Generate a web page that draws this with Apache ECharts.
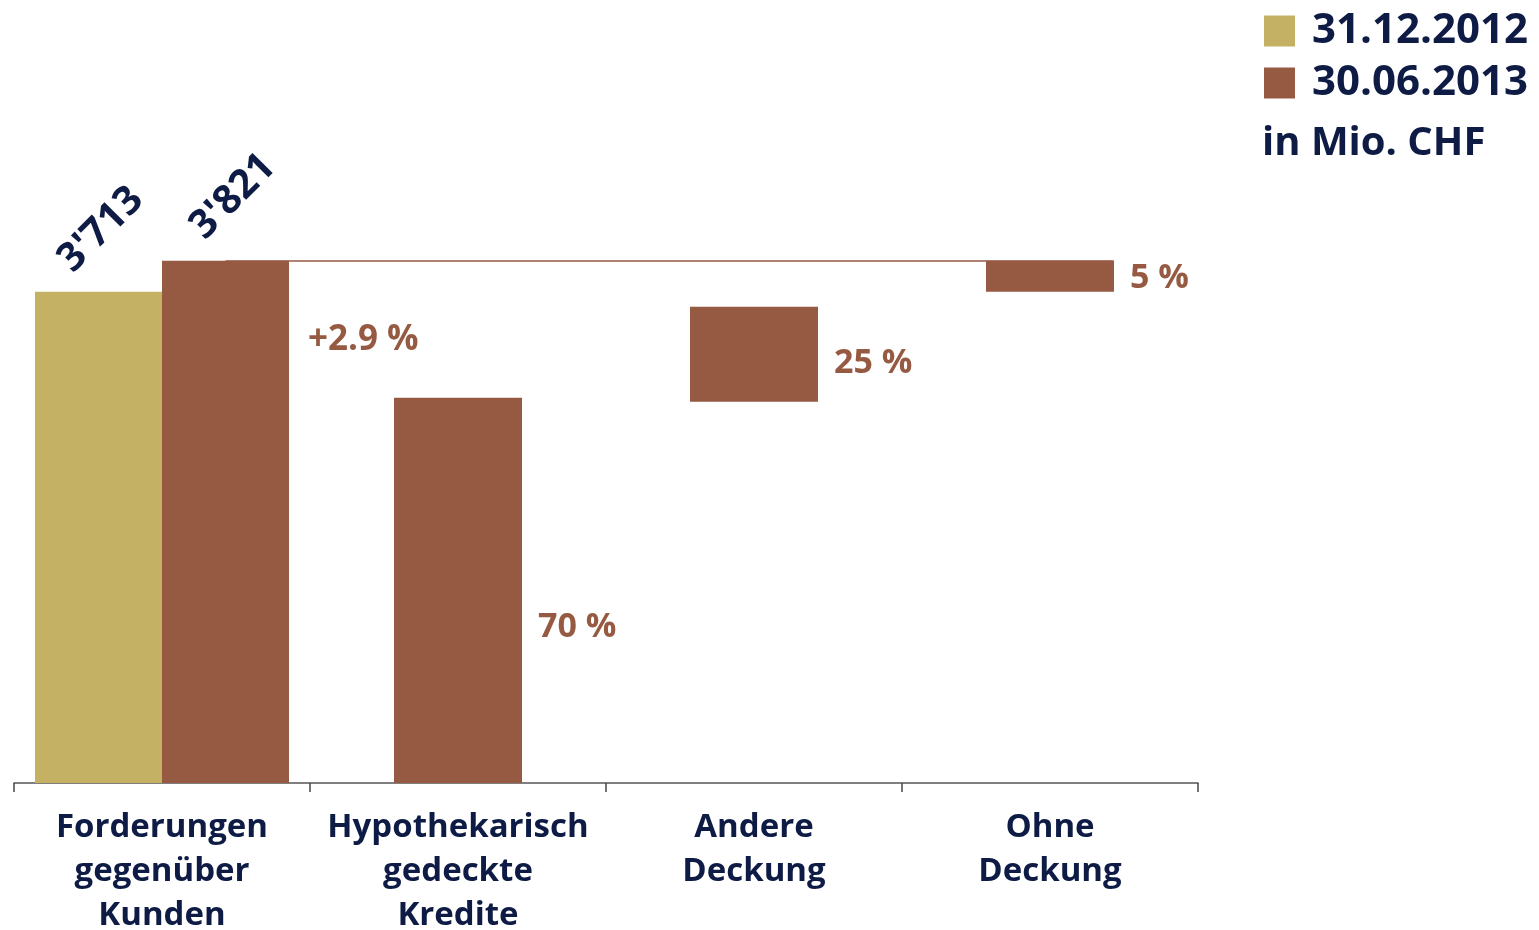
<!DOCTYPE html>
<html>
<head>
<meta charset="utf-8">
<script src="https://cdn.jsdelivr.net/npm/echarts@6/dist/echarts.min.js"></script>
<style>
  html, body { margin: 0; padding: 0; background: #fff; }
  #chart { width: 1539px; height: 930px; }
</style>
</head>
<body>
<div id="chart"></div>
<script>
// categories on the x axis
var categories = ['Forderungen\ngegenüber\nKunden', 'Hypothekarisch\ngedeckte\nKredite', 'Andere\nDeckung', 'Ohne\nDeckung'];
var seriesNames = ['31.12.2012', '30.06.2013'];

// totals (Mio. CHF), first category only
var total2012 = [3713, '-', '-', '-'];
var total2013 = [3821, '-', '-', '-'];
var totalLabels = ["3'713", "3'821"];

// breakdown bars: bottom and top of each floating bar (as drawn)
var partLow  = ['-', 2000, 3329, 3713];
var partHigh = ['-', 3343, 3661, 3821];
var partLabels = ['', '70 %', '25 %', '5 %'];
var changeLabel = '+2.9 %';

var navy = '#0d1b45';
var gold = '#c4b163';
var brown = '#965a43';
var font = 'Open Sans';

var myChart = echarts.init(document.getElementById('chart'));

var partBase = partLow.slice();
var partSize = partHigh.map(function (v, i) {
    return v === '-' ? '-' : v - partLow[i];
});
var labelShift = [0, 37, 9, 2];

var option = {
    animation: false,
    textStyle: { fontFamily: font },
    title: {
        text: 'in Mio. CHF',
        left: 1257,
        top: 119,
        textStyle: { color: navy, fontSize: 40, fontWeight: 'bold', fontFamily: font }
    },
    legend: {
        data: seriesNames,
        orient: 'vertical',
        left: 1264,
        top: 10,
        padding: 0,
        icon: 'rect',
        itemWidth: 31,
        itemHeight: 31,
        itemGap: 10,
        selectedMode: false,
        textStyle: {
            color: navy, fontSize: 42, fontWeight: 'bold', fontFamily: font,
            padding: [0, 0, 0, 12]
        }
    },
    graphic: [{
        type: 'text',
        left: 308,
        top: 323,
        style: {
            text: changeLabel,
            fill: brown,
            font: 'bold 35px "Open Sans"'
        }
    }],
    // labels reach below the canvas edge, so keep the grid where it is
    grid: { left: 14, width: 1184, top: 66, height: 717, containLabel: false, outerBoundsMode: 'none' },
    xAxis: [{
        type: 'category',
        data: categories,
        axisLine: { lineStyle: { color: '#555', width: 1.5 } },
        axisTick: { show: true, length: 9, lineStyle: { color: '#444', width: 1.5 } },
        axisLabel: {
            color: navy,
            fontSize: 33,
            fontWeight: 'bold',
            lineHeight: 44,
            margin: 23,
            interval: 0,
            fontFamily: font
        }
    }, {
        type: 'category',
        data: categories,
        show: false
    }],
    yAxis: {
        type: 'value',
        min: 2000,
        max: 4500,
        show: false,
        splitLine: { show: false }
    },
    series: [{
        name: seriesNames[0],
        type: 'bar',
        xAxisIndex: 0,
        barWidth: 127,
        barGap: '0%',
        itemStyle: { color: gold },
        label: {
            show: true,
            position: [30, -26],
            rotate: 45,
            align: 'left',
            verticalAlign: 'middle',
            formatter: function () { return totalLabels[0]; },
            color: navy,
            fontSize: 40,
            fontWeight: 'bold',
            fontFamily: font
        },
        data: total2012
    }, {
        name: seriesNames[1],
        type: 'bar',
        xAxisIndex: 0,
        barWidth: 127,
        barGap: '0%',
        itemStyle: { color: brown },
        label: {
            show: true,
            position: [35, -28],
            rotate: 45,
            align: 'left',
            verticalAlign: 'middle',
            formatter: function () { return totalLabels[1]; },
            color: navy,
            fontSize: 40,
            fontWeight: 'bold',
            fontFamily: font
        },
        markLine: {
            silent: true,
            symbol: 'none',
            label: { show: false },
            lineStyle: { color: brown, width: 1.5, type: 'solid' },
            data: [[{ coord: [0, total2013[0]] }, { coord: [3, total2013[0]] }]]
        },
        data: total2013
    }, {
        name: 'base',
        type: 'bar',
        xAxisIndex: 1,
        stack: 'part',
        barWidth: 128,
        silent: true,
        itemStyle: { color: 'transparent' },
        data: partBase
    }, {
        name: 'part',
        type: 'bar',
        xAxisIndex: 1,
        stack: 'part',
        barWidth: 128,
        itemStyle: { color: brown },
        data: partSize.map(function (v, i) {
            return {
                value: v,
                label: {
                    show: v !== '-',
                    position: 'right',
                    distance: 16,
                    offset: [0, labelShift[i]],
                    formatter: partLabels[i],
                    color: brown,
                    fontSize: 34,
                    fontWeight: 'bold',
                    fontFamily: font
                }
            };
        })
    }]
};

myChart.setOption(option);
</script>
</body>
</html>
